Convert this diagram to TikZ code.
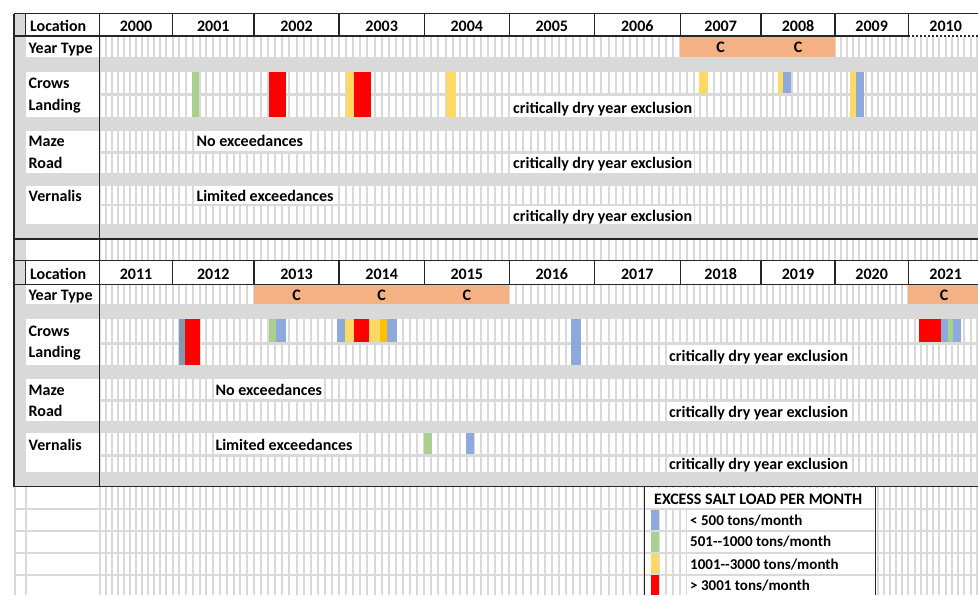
\documentclass[tikz,border=0pt]{standalone}
\usepackage{fontspec}
\setmainfont{Carlito}
\usepackage{tikz}
\definecolor{band}{HTML}{D9D9D9}
\definecolor{rule}{HTML}{262626}
\definecolor{yrtype}{HTML}{F4B183}
\definecolor{lowload}{HTML}{8EA9DB}
\definecolor{midload}{HTML}{A9D08E}
\definecolor{highload}{HTML}{FFD966}
\definecolor{topload}{HTML}{FF0000}
\definecolor{slate}{HTML}{8497B0}
\definecolor{amber}{HTML}{FFC000}

\begin{document}
\begin{tikzpicture}
[x=1pt, y=-1pt,
lbl/.style={font=\fontsize{16}{18}\selectfont\bfseries, inner sep=0pt, anchor=base west},
yr/.style={lbl, anchor=base},
note/.style 2 args={lbl, fill=white, inner xsep=2pt, text height=#1, text depth=#2},
key/.style={lbl, font=\fontsize{15}{18}\selectfont\bfseries},
gridline/.style={band, line width=2pt},
border/.style={rule, line width=1.2pt}
]
%Background
\useasboundingbox (0,0) rectangle (978,595);
\clip (0,0) rectangle (978,595);
\fill[white] (0,0) rectangle (978,595);
\fill[band] (14,13.5) rectangle (983,486.7);
\fill[white] (26,240) rectangle (983,260.3);

%Month cells
\foreach \ya/\yb in {37/56.7, 71.7/93.3, 95.7/117.3, 131/151.3, 153.5/172.7, 186/204, 206/224,
  285/304.3, 318.7/342.3, 344.5/365.3, 379/399.3, 401.5/421, 433.3/454.3, 456.5/472.3}
  \fill[white] (99.5,\ya) rectangle (983,\yb);
\foreach \xa/\xb in {99.5/172.5, 172.5/254, 254/339, 339/424.3, 424.3/509.3, 509.3/594.3,
  594.3/680.3, 680.3/761, 761/835, 835/908.3, 908.3/983}
  \foreach \m in {0,...,11}
    \draw[gridline] ({\xa+\m*(\xb-\xa)/12},13.5) -- ({\xa+\m*(\xb-\xa)/12},595);
\foreach \y in {509, 530.8, 552.7, 574.5}
  \draw[gridline] (14,\y) -- (983,\y);
\foreach \x in {15, 25.5, 99.5}
  \draw[gridline] (\x,486.7) -- (\x,595);

%Label cells
\foreach \ya/\yb in {37/56.7, 71.7/117.3, 131/172.7, 186/224, 285/304.3, 318.7/365.3, 379/421, 433.3/472.3}
  \fill[white] (26,\ya) rectangle (99.5,\yb);

%Header rows
\foreach \ya/\yb in {13.5/36, 260.3/284.3} {
  \fill[white] (26,\ya) rectangle (983,\yb);
  \draw[border] (14,\ya) -- (983,\ya) (14,\yb) -- (983,\yb);
  \foreach \x in {25.5, 99.5, 172.5, 254, 339, 424.3, 509.3, 594.3, 680.3, 761, 835, 908.3}
    \draw[border] (\x,\ya) -- (\x,\yb);
}
\draw[white, line width=1.3pt, dash pattern=on 2pt off 2pt] (909.5,36) -- (983,36);

%Year type
\fill[yrtype] (680.3,36.6) rectangle (835,56.7);
\fill[yrtype] (254,284.9) rectangle (509.3,304.3);
\fill[yrtype] (908.3,284.9) rectangle (983,304.3);

%Bars
\foreach \xa/\xb/\yb/\c in {192/199.3/117.3/midload, 269/285.7/117.3/topload,
  345.7/354/117.3/highload, 354/370.7/117.3/topload, 446/455.7/117.3/highload,
  698.7/708/93.3/highload, 778.3/782.7/93.3/highload, 782.7/791/93.3/lowload,
  850/855.7/117.3/highload, 855.7/864/117.3/lowload}
  \fill[\c] (\xa,71.7) rectangle (\xb,\yb);
\foreach \xa/\xb/\yb/\c in {178.7/185/365.3/slate, 185/199.7/365.3/topload,
  269/276/342.3/midload, 276/285.7/342.3/lowload,
  337.3/345.3/342.3/lowload, 345.3/354/342.3/highload, 354/369/342.3/topload,
  369/380/342.3/highload, 380/387.3/342.3/amber, 387.3/397.3/342.3/lowload,
  571.3/580.7/365.3/lowload, 918.7/941/342.3/topload, 941/948.3/342.3/lowload,
  948.3/953.3/342.3/midload, 953.3/961/342.3/lowload}
  \fill[\c] (\xa,318.7) rectangle (\xb,\yb);
\fill[midload] (423.7,433.3) rectangle (432.3,454.3);
\fill[lowload] (465.7,433.3) rectangle (474.3,454.3);

%Borders
\draw[border] (14,13.5) -- (14,486.7);
\draw[border] (99.5,13.5) -- (99.5,486.7);
\draw[border] (14,239) -- (983,239);
\draw[border] (14,486.7) -- (983,486.7);

%Nodes
\node[lbl] (locA) at (30,31.7) {Location};
\node[lbl] (locB) at (30,279.3) {Location};
\foreach \xa/\xb/\yr in {99.5/172.5/2000, 172.5/254/2001, 254/339/2002, 339/424.3/2003,
  424.3/509.3/2004, 509.3/594.3/2005, 594.3/680.3/2006, 680.3/761/2007, 761/835/2008,
  835/908.3/2009, 908.3/983/2010} {
  \pgfmathtruncatemacro\yrb{\yr+11}
  \node[yr] (h\yr) at ({(\xa+\xb)/2},31.7) {\yr};
  \node[yr] (h\yrb) at ({(\xa+\xb)/2},279.3) {\yrb};
}
\foreach \txt/\ya/\yb [count=\i] in {Year Type/53.3/300.7, Crows/88.3/336, Landing/110/357.3,
  Maze/146.7/395, Road/168.3/416.7, Vernalis/201.7/450} {
  \node[lbl] (rowA\i) at (28.5,\ya) {\txt};
  \node[lbl] (rowB\i) at (28.5,\yb) {\txt};
}
\node[yr] (c2007) at (720.7,52.3) {C};
\node[yr] (c2008) at (798,52.3) {C};
\node[yr] (c2013) at (296.5,300.3) {C};
\node[yr] (c2014) at (381.7,300.3) {C};
\node[yr] (c2015) at (466.8,300.3) {C};
\node[yr] (c2021) at (944,300.3) {C};

\node[note={15.7pt}{4.6pt}] (noneA) at (194.3,146.7) {No exceedances};
\node[note={15.7pt}{2.3pt}] (fewA) at (194.3,201.7) {Limited exceedances};
\node[note={17.6pt}{4pt}] (dryA1) at (511,113.3) {critically dry year exclusion};
\node[note={14.8pt}{4.4pt}] (dryA2) at (511,168.3) {critically dry year exclusion};
\node[note={15pt}{3pt}] (dryA3) at (511,221) {critically dry year exclusion};
\node[note={16pt}{4.3pt}] (noneB) at (213.3,395) {No exceedances};
\node[note={16.7pt}{4.3pt}] (fewB) at (213.3,450) {Limited exceedances};
\node[note={17.2pt}{3.6pt}] (dryB1) at (667,361.7) {critically dry year exclusion};
\node[note={15.5pt}{4pt}] (dryB2) at (667,417) {critically dry year exclusion};
\node[note={12.5pt}{3.3pt}] (dryB3) at (667,469) {critically dry year exclusion};

%Legend
\fill[white] (645,487.5) rectangle (875.7,508.2);
\foreach \ya/\yb in {510/529.8, 531.8/551.7, 553.7/573.5, 575.5/595}
  \fill[white] (687.3,\ya) rectangle (875.7,\yb);
\foreach \ya/\yb/\c in {509.6/529.6/lowload, 531.6/552.4/midload, 553.9/573.8/highload, 575.3/595/topload}
  \fill[\c] (650.7,\ya) rectangle (659.3,\yb);
\draw[border] (644.7,486.7) -- (644.7,595);
\draw[border] (875.7,486.7) -- (875.7,595);
\node[lbl] (keyhead) at (654,504.3) {EXCESS SALT LOAD PER MONTH};
\node[key] (key1) at (690,525) {< 500 tons/month};
\node[key] (key2) at (690,546.7) {501\mbox{-}\mbox{-}1000 tons/month};
\node[key] (key3) at (690,569) {1001\mbox{-}\mbox{-}3000 tons/month};
\node[key] (key4) at (690,590) {> 3001 tons/month};
\end{tikzpicture}
\end{document}
